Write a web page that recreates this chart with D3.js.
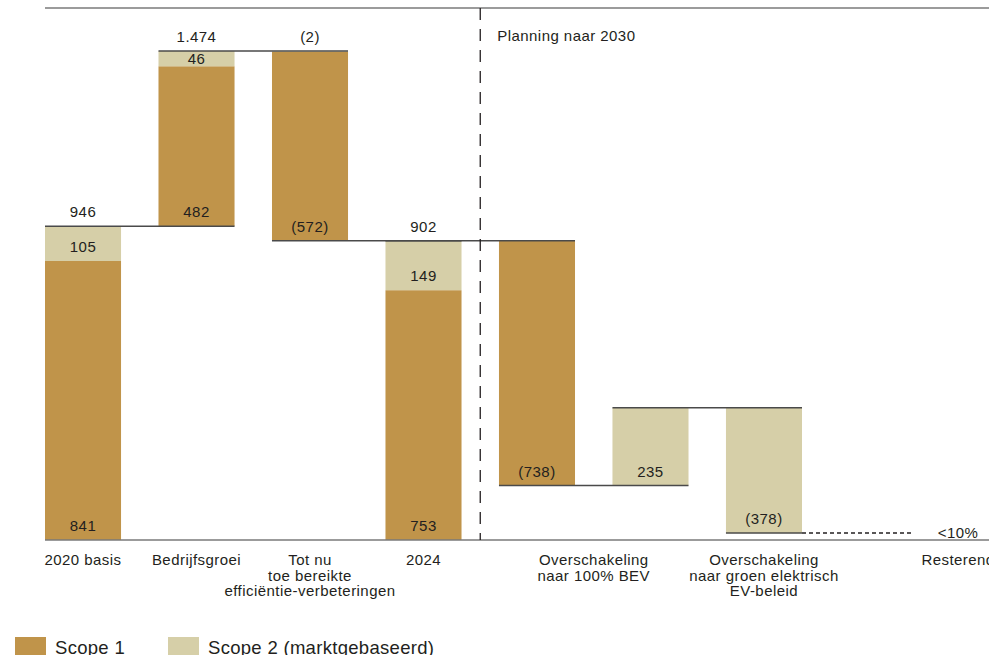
<!DOCTYPE html>
<html>
<head>
<meta charset="utf-8">
<script src="https://cdn.jsdelivr.net/npm/d3@7"></script>
<style>
  html, body { margin: 0; padding: 0; background: #fff; }
  svg { display: block; }
  text { font-family: "Liberation Sans", Arial, sans-serif; fill: #231f20; letter-spacing: 0.45px; }
</style>
</head>
<body>
<svg id="chart" width="989" height="655"></svg>
<script>
// ---- data ----
const steps      = ["2020 basis", "Bedrijfsgroei", "Efficiëntie", "2024", "BEV scope 1", "BEV scope 2", "Groen EV"];
const isTotal    = [true, false, false, true, false, false, false];
const scope1     = [841, 482, -570, 753, -738, 0, 0];
const scope2     = [105, 46, -2, 149, 0, 235, -378];
const scope1Text = ["841", "482", "(572)", "753", "(738)", "", ""];
const scope2Text = ["105", "46", "(2)", "149", "", "235", "(378)"];
const levelText  = ["946", "1.474", "", "902", "", "", ""];
const axisLabels = [
  ["2020 basis"], ["Bedrijfsgroei"], ["Tot nu", "toe bereikte", "efficiëntie-verbeteringen"],
  ["2024"], ["Overschakeling", "naar 100% BEV"], ["Overschakeling", "naar groen elektrisch", "EV-beleid"]
];
const axisSpans  = [[0, 0], [1, 1], [2, 2], [3, 3], [4, 5], [6, 6]];
const restLabel  = "Resterend";
const restValue  = "<10%";
const planText   = "Planning naar 2030";
const seriesNames = ["Scope 1", "Scope 2 (marktgebaseerd)"];
const colors = ["#c0944a", "#d6cfa8"];

(function () {
// ---- geometry ----
const svg = d3.select("#chart");
const xLeft = 45, xRight = 989, yTop = 8, yBase = 540;
const x = d3.scaleBand().domain(steps).range([45, 802]).paddingInner(0.33).paddingOuter(0);
const bw = x.bandwidth();
const y = d3.scaleLinear().domain([0, 1474]).range([yBase, 51]);

// compute segments
let level = 0;
const bars = steps.map((s, i) => {
  let seg1, seg2, end;
  if (isTotal[i]) {
    seg1 = [0, scope1[i]];
    seg2 = [scope1[i], scope1[i] + scope2[i]];
    end = scope1[i] + scope2[i];
  } else {
    const tot = scope1[i] + scope2[i];
    if (tot >= 0) {
      seg1 = [level, level + scope1[i]];
      seg2 = [level + scope1[i], level + tot];
    } else {
      seg2 = [level + scope2[i], level];
      seg1 = [level + tot, level + scope2[i]];
    }
    end = level + tot;
  }
  level = end;
  return { key: s, i, seg1, seg2, end };
});

// frame line
svg.append("line").attr("x1", xLeft).attr("x2", xRight).attr("y1", yTop).attr("y2", yTop)
  .attr("stroke", "#7a7a7a").attr("stroke-width", 1.5);

// bars
const g = svg.append("g");
bars.forEach(b => {
  [[b.seg1, 0], [b.seg2, 1]].forEach(([seg, k]) => {
    const lo = Math.min(seg[0], seg[1]), hi = Math.max(seg[0], seg[1]);
    if (hi - lo <= 0) return;
    g.append("rect")
      .attr("x", x(b.key)).attr("width", bw)
      .attr("y", y(hi)).attr("height", y(lo) - y(hi))
      .attr("fill", colors[k]);
  });
});

// connectors
bars.forEach((b, i) => {
  const x1 = x(b.key);
  const x2 = i < steps.length - 1 ? x(steps[i + 1]) + bw : x(b.key) + bw;
  svg.append("line").attr("x1", x1).attr("x2", x2)
    .attr("y1", y(b.end)).attr("y2", y(b.end))
    .attr("stroke", "#4a4a4a").attr("stroke-width", 1.5);
});
const last = bars[bars.length - 1];
const step = x.step();
const restX = x(last.key) + bw / 2 + 1.71 * step;
svg.append("line")
  .attr("x1", x(last.key) + bw).attr("x2", restX - 47)
  .attr("y1", y(last.end)).attr("y2", y(last.end))
  .attr("stroke", "#231f20").attr("stroke-width", 1.5).attr("stroke-dasharray", "4,3");

// baseline
svg.append("line").attr("x1", xLeft).attr("x2", xRight).attr("y1", yBase).attr("y2", yBase)
  .attr("stroke", "#7a7a7a").attr("stroke-width", 1.5);

// divider
const divX = (x(steps[3]) + bw + x(steps[4])) / 2;
svg.append("line").attr("x1", divX).attr("x2", divX).attr("y1", yTop).attr("y2", yBase)
  .attr("stroke", "#231f20").attr("stroke-width", 1.3).attr("stroke-dasharray", "12,9");
svg.append("text").attr("x", divX + 17).attr("y", 41).attr("font-size", 15).text(planText);

// labels
const fs = 15;
function segLabel(cx, seg, txt) {
  const lo = Math.min(seg[0], seg[1]), hi = Math.max(seg[0], seg[1]);
  const h = y(lo) - y(hi);
  const t = svg.append("text").attr("x", cx).attr("text-anchor", "middle").attr("font-size", fs).text(txt);
  if (h < 6) t.attr("y", y(hi) - 9);                       // too thin: label above
  else if (h < 30) t.attr("y", (y(lo) + y(hi)) / 2).attr("dy", "0.36em"); // small: centred
  else t.attr("y", y(lo) - 9);                             // otherwise at segment foot
}
bars.forEach((b, i) => {
  const cx = x(b.key) + bw / 2;
  if (levelText[i]) {
    svg.append("text").attr("x", cx).attr("y", y(b.end) - 9)
      .attr("text-anchor", "middle").attr("font-size", fs).text(levelText[i]);
  }
  if (scope1Text[i]) segLabel(cx, b.seg1, scope1Text[i]);
  if (scope2Text[i]) segLabel(cx, b.seg2, scope2Text[i]);
});

// axis labels
axisLabels.forEach((lines, j) => {
  const [a, bIdx] = axisSpans[j];
  const cx = (x(steps[a]) + x(steps[bIdx]) + bw) / 2;
  const t = svg.append("text").attr("text-anchor", "middle").attr("font-size", fs);
  lines.forEach((ln, k) => {
    t.append("tspan").attr("x", cx).attr("y", 565 + k * 15.5).text(ln);
  });
});
svg.append("text").attr("x", restX).attr("y", 565).attr("text-anchor", "middle")
  .attr("font-size", fs).text(restLabel);
svg.append("text").attr("x", restX).attr("y", y(last.end)).attr("dy", "0.35em")
  .attr("text-anchor", "middle").attr("font-size", fs).text(restValue);

// legend
const legX = [15, 168];
seriesNames.forEach((n, k) => {
  svg.append("rect").attr("x", legX[k]).attr("y", 637).attr("width", 31).attr("height", 18).attr("fill", colors[k]);
  svg.append("text").attr("x", legX[k] + 40).attr("y", 654).attr("font-size", 18.5)
    .style("letter-spacing", "0.3px").text(n);
});
})();
</script>
</body>
</html>
